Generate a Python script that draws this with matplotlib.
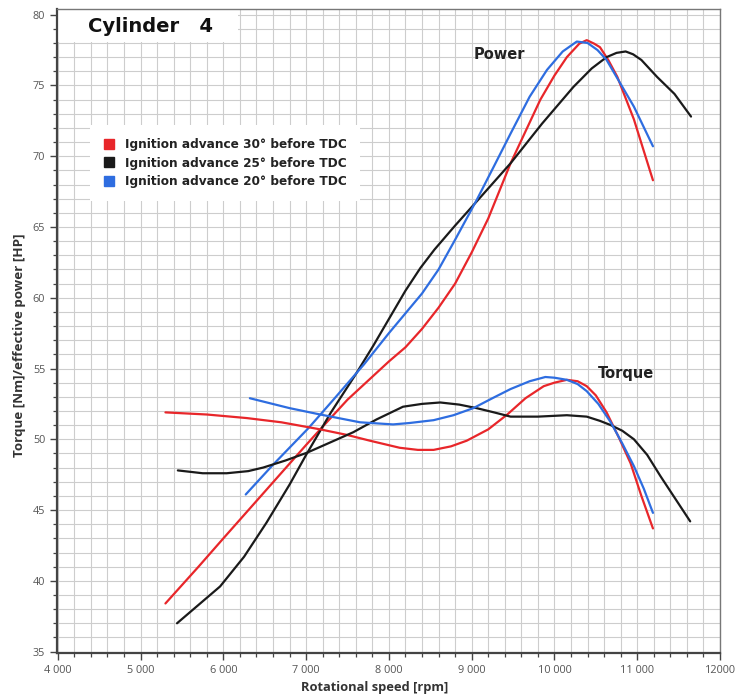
import numpy as np
import matplotlib.pyplot as plt
from matplotlib.lines import Line2D
from matplotlib.patches import Rectangle
from matplotlib.ticker import MultipleLocator, FuncFormatter

# effective power [HP] vs rpm
rpm_pw_30 = [5300, 5700, 6000, 6500, 7000, 7170, 7500, 8000, 8200, 8400, 8600, 8800, 9000,
             9200, 9470, 9830, 10000, 10150, 10300, 10390, 10480, 10550, 10650, 10760,
             10960, 11190]
pw_30 = [38.4, 41.0, 43.0, 46.3, 49.6, 50.7, 52.8, 55.5, 56.5, 57.8, 59.3, 61.0, 63.2,
         65.6, 69.5, 74.0, 75.7, 77.0, 77.95, 78.2, 77.95, 77.7, 76.8, 75.6,
         72.6, 68.3]

rpm_pw_25 = [5440, 5700, 5960, 6250, 6520, 6800, 7000, 7300, 7600, 7810, 8000, 8200, 8380,
             8550, 8800, 9060, 9470, 9850, 10230, 10450, 10630, 10750, 10860, 10950,
             11050, 11240, 11450, 11650]
pw_25 = [37.0, 38.3, 39.6, 41.7, 44.1, 46.8, 48.9, 51.9, 54.6, 56.6, 58.5, 60.5, 62.1,
         63.4, 65.1, 66.8, 69.5, 72.3, 74.9, 76.2, 77.0, 77.3, 77.4, 77.2,
         76.8, 75.6, 74.4, 72.8]

rpm_pw_20 = [6270, 6600, 7030, 7330, 7700, 8000, 8200, 8400, 8600, 8800, 9060, 9270, 9470,
             9700, 9910, 10100, 10270, 10400, 10520, 10630, 10800, 10960, 11190]
pw_20 = [46.1, 48.2, 50.8, 52.8, 55.3, 57.5, 58.9, 60.3, 62.0, 64.1, 66.9, 69.3, 71.6,
         74.2, 76.1, 77.4, 78.1, 78.0, 77.5, 76.8, 75.1, 73.5, 70.7]

# torque [Nm] vs rpm
rpm_tq_30 = [5300, 5800, 6280, 6700, 7170, 7500, 7770, 8130, 8350, 8540, 8750, 8940, 9200,
             9430, 9650, 9870, 10000, 10150, 10280, 10390, 10500, 10630, 10780, 10920,
             11050, 11190]
tq_30 = [51.9, 51.75, 51.5, 51.2, 50.7, 50.3, 49.9, 49.4, 49.25, 49.25, 49.5, 49.9, 50.7,
         51.75, 52.9, 53.75, 54.0, 54.2, 54.1, 53.75, 53.1, 51.9, 50.1, 48.3,
         46.0, 43.7]

rpm_tq_25 = [5450, 5750, 6040, 6300, 6480, 6750, 7010, 7300, 7570, 7850, 8170, 8400, 8620,
             8850, 9060, 9270, 9470, 9800, 10150, 10390, 10550, 10680, 10820, 10960,
             11120, 11280, 11460, 11640]
tq_25 = [47.8, 47.6, 47.6, 47.75, 48.0, 48.5, 49.05, 49.8, 50.5, 51.4, 52.3, 52.5, 52.6,
         52.45, 52.2, 51.9, 51.6, 51.6, 51.7, 51.6, 51.3, 51.0, 50.6, 50.0,
         48.9, 47.4, 45.8, 44.2]

rpm_tq_20 = [6320, 6800, 7170, 7650, 8050, 8250, 8540, 8780, 9020, 9250, 9470, 9700, 9890,
             10000, 10150, 10280, 10390, 10530, 10680, 10820, 10960, 11080, 11190]
tq_20 = [52.9, 52.2, 51.75, 51.2, 51.05, 51.15, 51.35, 51.7, 52.2, 52.9, 53.55, 54.1, 54.4,
         54.35, 54.2, 53.9, 53.4, 52.5, 51.2, 49.7, 48.1, 46.5, 44.8]

labels = ['Ignition advance 30° before TDC',
          'Ignition advance 25° before TDC',
          'Ignition advance 20° before TDC']
colors = ['#e8262a', '#1a1a1a', '#2e6de0']

fig = plt.figure(figsize=(7.36, 6.98), dpi=100)
ax = fig.add_axes([57 / 736, 45 / 698, 663 / 736, 644 / 698])

ax.set_xlim(3990, 12000)
ax.set_ylim(34.9, 80.4)

ax.xaxis.set_major_locator(MultipleLocator(1000))
ax.xaxis.set_minor_locator(MultipleLocator(200))
ax.yaxis.set_major_locator(MultipleLocator(5))
ax.yaxis.set_minor_locator(MultipleLocator(1))
ax.xaxis.set_major_formatter(FuncFormatter(
    lambda v, p: '12000' if v >= 12000 else f'{int(v):,}'.replace(',', ' ')))

ax.grid(which='both', color='#cdcdcd', linewidth=0.8, zorder=0)
ax.set_axisbelow(True)

for s in ['left', 'bottom']:
    ax.spines[s].set_color('#444444')
    ax.spines[s].set_linewidth(1.6)
for s in ['top', 'right']:
    ax.spines[s].set_color('#777777')
    ax.spines[s].set_linewidth(1.0)

ax.tick_params(which='major', length=5, width=1.0, color='#444444',
               labelsize=7.8, labelcolor='#555555')
ax.tick_params(which='minor', length=3, width=0.9, color='#444444')
for t in ax.get_xticklabels() + ax.get_yticklabels():
    t.set_family('Open Sans')

lw = 1.6
for xs, ys, c in [(rpm_pw_30, pw_30, colors[0]), (rpm_pw_25, pw_25, colors[1]),
                  (rpm_pw_20, pw_20, colors[2]), (rpm_tq_30, tq_30, colors[0]),
                  (rpm_tq_25, tq_25, colors[1]), (rpm_tq_20, tq_20, colors[2])]:
    ax.plot(xs, ys, color=c, linewidth=lw, zorder=3, solid_capstyle='round',
            solid_joinstyle='round')

# title box over the grid
ax.add_patch(Rectangle((0.0, 1 - 33 / 644), 181 / 663, 33 / 644, transform=ax.transAxes,
                       facecolor='white', edgecolor='none', zorder=1))
ax.text(31 / 663, 1 - 18 / 644, 'Cylinder   4', transform=ax.transAxes,
        fontsize=14, fontweight='bold', family='DejaVu Sans',
        va='center', ha='left', color='#111111', zorder=4)

ax.text(9330, 77.2, 'Power', fontsize=10.5, fontweight='bold',
        family='DejaVu Sans', color='#222222', ha='center', va='center')
ax.text(10870, 54.65, 'Torque', fontsize=10.5, fontweight='bold',
        family='DejaVu Sans', color='#222222', ha='center', va='center')

handles = [Line2D([], [], linestyle='none', marker='s', markersize=7,
                  markerfacecolor=c, markeredgecolor=c) for c in colors]
leg = ax.legend(handles, labels, loc='upper left',
                bbox_to_anchor=(33 / 663, 1 - 116 / 644), frameon=True,
                fancybox=False, framealpha=1, edgecolor='none', facecolor='white',
                prop={'family': 'DejaVu Sans', 'weight': 'bold', 'size': 8.7},
                handlelength=1.0, handletextpad=0.8, labelspacing=0.45,
                borderpad=1.1, borderaxespad=0)
for t in leg.get_texts():
    t.set_color('#222222')
leg.set_zorder(2)

ax.set_xlabel('Rotational speed [rpm]', fontsize=9.3, fontweight='bold',
              family='Open Sans', color='#333333')
ax.set_ylabel('Torque [Nm]/effective power [HP]', fontsize=9.6, fontweight='bold',
              family='Open Sans', color='#333333')
ax.xaxis.label.set_va('center')
ax.yaxis.label.set_va('center')
ax.xaxis.set_label_coords(0.479, -35 / 644)
ax.yaxis.set_label_coords(-37 / 663, 0.478)

fig.savefig('out.png', dpi=100, facecolor='white')
